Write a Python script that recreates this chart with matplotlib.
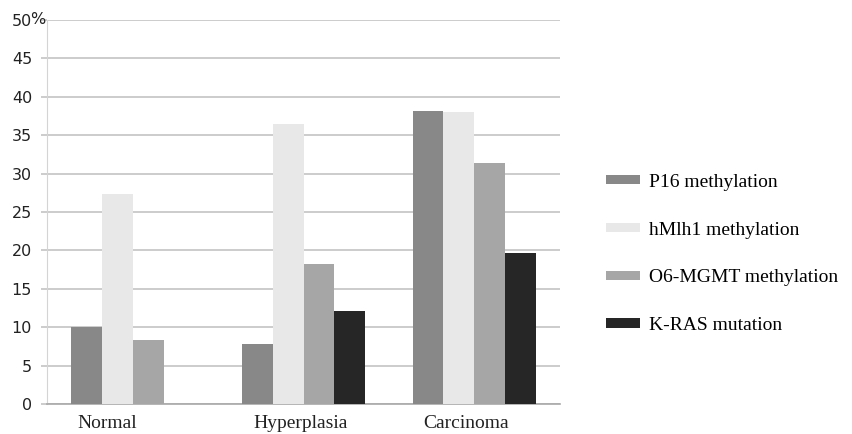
import numpy as np
import matplotlib.pyplot as plt
from matplotlib.patches import Patch

# datos
categorias = ["Normal", "Hyperplasia", "Carcinoma"]
series = ["P16 methylation", "hMlh1 methylation", "O6-MGMT methylation", "K-RAS mutation"]
p16 = [10.0, 7.8, 38.2]
hmlh1 = [27.3, 36.4, 38.0]
o6mgmt = [8.3, 18.2, 31.4]
kras = [np.nan, 12.1, 19.6]
yticks = [0, 5, 10, 15, 20, 25, 30, 35, 40, 45, 50]
ytick_labels = ["0", "5", "10", "15", "20", "25", "30", "35", "40", "45", "50"]

colores = ["#888888", "#e8e8e8", "#a6a6a6", "#262626"]
valores = [p16, hmlh1, o6mgmt, kras]

fig = plt.figure(figsize=(8.52, 4.34), dpi=100)
ax = fig.add_axes([0.0555, 0.0691, 0.6015, 0.885])

x = np.arange(len(categorias))
ancho = 0.181
for i, (vals, col) in enumerate(zip(valores, colores)):
    ax.bar(x + (i - 1.5) * ancho, vals, ancho, color=col, zorder=3, linewidth=0)

ax.set_xlim(-0.5, 2.5)
ax.set_ylim(0, 50)
ax.set_yticks(yticks)
ax.set_yticklabels(ytick_labels, fontsize=11.5, color="#222222")
ax.yaxis.grid(True, color="#c4c4c4", linewidth=1.2, zorder=0)

# el "%" va pegado al 50, encima del eje
ax.annotate("%", xy=(0, 1), xycoords="axes fraction", xytext=(-12.0, 0),
            textcoords="offset points", ha="left", va="center",
            fontsize=11.5, color="#222222", zorder=5)

# etiquetas de categoria (algo corridas a la izquierda como en el original)
pos_etiquetas = [-0.15, 0.98, 1.95]
ax.set_xticks(pos_etiquetas)
ax.set_xticklabels(categorias, fontsize=14, family="Liberation Serif", color="#222222")
ax.tick_params(axis="x", length=0, pad=8)
ax.tick_params(axis="y", length=4, color="#c4c4c4", width=1.2, pad=7)

for s in ["top", "right"]:
    ax.spines[s].set_visible(False)
ax.spines["left"].set_color("#d4d4d4")
ax.spines["bottom"].set_color("#a8a8a8")
ax.spines["bottom"].set_linewidth(1.2)

handles = [Patch(facecolor=c, edgecolor="none") for c in colores]
leg = fig.legend(handles, series, loc="center left", bbox_to_anchor=(0.711, 0.415),
                 frameon=False, prop={"family": "Liberation Serif", "size": 14},
                 handlelength=1.75, handleheight=0.36, handletextpad=0.45,
                 labelspacing=1.58, borderpad=0, borderaxespad=0)

fig.savefig("out.png", dpi=100)
